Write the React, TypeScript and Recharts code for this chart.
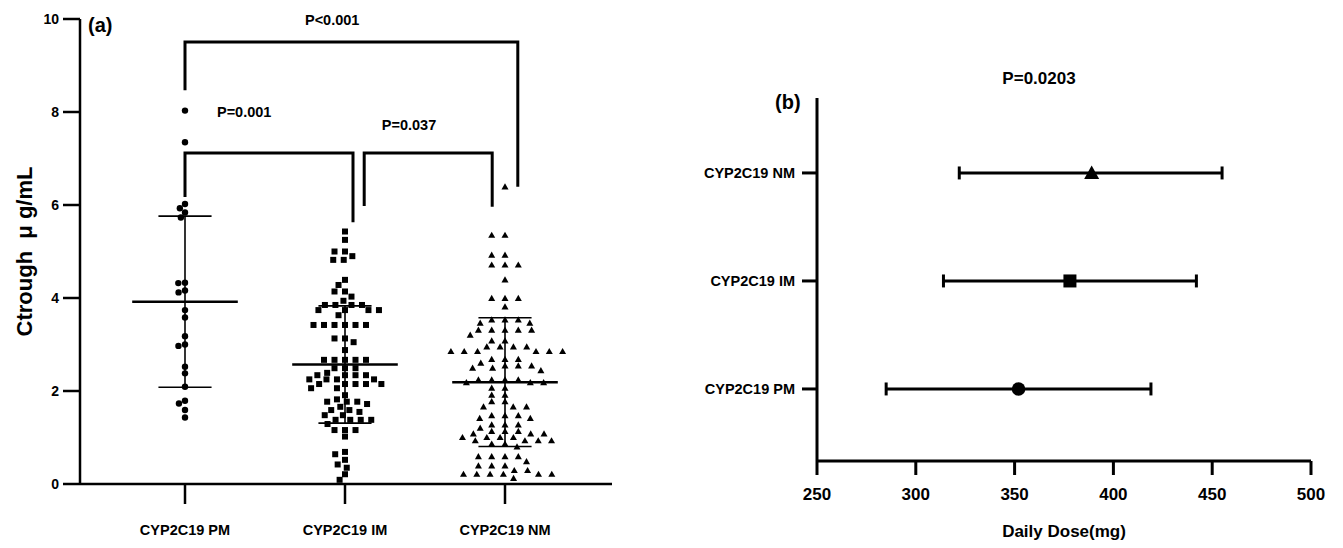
import React from 'react';
import { ScatterChart, Scatter, XAxis, YAxis, ReferenceLine, ReferenceDot } from 'recharts';

const FONT = '"Liberation Sans", Arial, Helvetica, sans-serif';

// ---------- data ----------
const groups = ['CYP2C19 PM', 'CYP2C19 IM', 'CYP2C19 NM'];

const pmTrough = [8.03, 7.35, 6.02, 5.93, 5.84, 5.73, 4.33, 4.32, 4.16, 4.12, 3.74, 3.58, 3.18, 3.0, 2.97, 2.52, 2.38, 2.09, 1.79, 1.73, 1.59, 1.43];

const imTrough = [
  5.43, 5.25, 5.0, 5.0, 4.9, 4.82, 4.82, 4.39, 4.28, 4.14, 4.14, 4.03, 3.94,
  3.85, 3.85, 3.85, 3.85, 3.74, 3.74, 3.74, 3.74, 3.63,
  3.42, 3.42, 3.42, 3.42, 3.42, 3.42, 3.13, 3.13, 3.05, 2.88,
  2.67, 2.67, 2.67, 2.67, 2.67, 2.49, 2.49, 2.49, 2.39,
  2.34, 2.34, 2.34, 2.34, 2.25, 2.25, 2.25, 2.25, 2.15, 2.15, 2.15, 2.15, 2.15, 2.06, 2.06,
  1.91, 1.82, 1.77, 1.77, 1.77, 1.72, 1.66, 1.59, 1.59, 1.55, 1.48, 1.48,
  1.38, 1.38, 1.38, 1.38, 1.29, 1.16, 1.16, 1.16, 1.02,
  0.69, 0.64, 0.52, 0.42, 0.35, 0.21, 0.09,
];

const nmTrough = [
  6.39, 5.35, 5.35, 4.92, 4.92, 4.71, 4.71, 4.71, 4.39, 3.99, 3.99, 3.99, 3.81,
  3.53, 3.53, 3.53, 3.46, 3.46, 3.31, 3.31, 3.31, 3.31, 3.31, 3.2, 3.08, 3.08,
  2.95, 2.95, 2.95, 2.95, 2.85, 2.85, 2.85, 2.85, 2.85, 2.85, 2.68, 2.68, 2.68, 2.6,
  2.54, 2.54, 2.54, 2.49, 2.49, 2.44, 2.24, 2.24, 2.24, 2.24, 2.18, 2.18, 2.18,
  2.06, 2.06, 1.91, 1.91, 1.77, 1.77, 1.66, 1.66, 1.66, 1.47, 1.47, 1.47, 1.41, 1.41,
  1.27, 1.27, 1.27, 1.2, 1.13, 1.13, 1.13, 1.08, 1.08, 1.08, 1.0, 1.0, 1.0, 1.0,
  0.93, 0.93, 0.93, 0.93, 0.86, 0.86, 0.8, 0.59, 0.59, 0.59, 0.59, 0.48,
  0.39, 0.39, 0.39, 0.29, 0.29, 0.21, 0.21, 0.21, 0.21, 0.21, 0.21, 0.12,
];

const troughMean = [3.92, 2.57, 2.19];
const troughSD = [1.84, 1.26, 1.385];
const troughTicks = [0, 2, 4, 6, 8, 10];

const brackets = [
  { from: 1, to: 3.08, level: 9.505, leftEnd: 8.47, rightEnd: 6.39 },
  { from: 1, to: 2.05, level: 7.12, leftEnd: 6.17, rightEnd: 5.63 },
  { from: 2.12, to: 2.92, level: 7.12, leftEnd: 5.98, rightEnd: 5.96 },
];
const pLabels = [
  { text: 'P<0.001', x: 1.92, y: 9.98 },
  { text: 'P=0.001', x: 1.37, y: 8.0 },
  { text: 'P=0.037', x: 2.4, y: 7.72 },
];

const doseMean = [352, 378, 389];
const doseLow = [285, 314, 322];
const doseHigh = [419, 442, 455];
const doseTicks = [250, 300, 350, 400, 450, 500];

// ---------- layout helpers ----------
const A_W = 650, A_H = 548;
const A_M = { top: 19, right: 38, bottom: 24, left: 20 };
const A_XDOM: [number, number] = [0.34375, 3.66875];
const A_YDOM: [number, number] = [0, 10];
const A_PLOT_W = A_W - A_M.left - A_M.right - 60;
const A_PLOT_H = A_H - A_M.top - A_M.bottom - 40;
const PX_X = A_PLOT_W / (A_XDOM[1] - A_XDOM[0]);
const PX_Y = A_PLOT_H / (A_YDOM[1] - A_YDOM[0]);

function swarm(values: number[], center: number, sx: number, sy: number) {
  const placed: { x: number; y: number; v: number }[] = [];
  const sorted = [...values].sort((a, b) => b - a);
  for (const v of sorted) {
    const y = v * PX_Y;
    const iv: [number, number][] = [];
    for (const p of placed) {
      const dy = Math.abs(p.y - y);
      if (dy < sy) {
        const h = sx * Math.sqrt(1 - (dy / sy) * (dy / sy));
        iv.push([p.x - h, p.x + h]);
      }
    }
    const cands = [0];
    iv.forEach(([a, b]) => cands.push(a, b));
    cands.sort((a, b) => Math.abs(a) - Math.abs(b) || a - b);
    let chosen = 0;
    for (const c of cands) {
      if (iv.every(([a, b]) => c <= a + 1e-6 || c >= b - 1e-6)) { chosen = c; break; }
    }
    placed.push({ x: chosen, y, v });
  }
  return placed.map((p) => ({ x: center + p.x / PX_X, y: p.v }));
}

const pmPts = swarm(pmTrough, 1, 6.7, 6.5);
const imPts = swarm(imTrough, 2, 10.5, 6.5);
const nmPts = swarm(nmTrough, 3, 13.3, 6.5);

const Circle = (r: number) => (p: any) => <circle cx={p.cx} cy={p.cy} r={r} fill="#000" />;
const Square = (s: number) => (p: any) => <rect x={p.cx - s / 2} y={p.cy - s / 2} width={s} height={s} fill="#000" />;
const Tri = (w: number, up: number, down: number) => (p: any) => (
  <polygon points={`${p.cx},${p.cy - up} ${p.cx - w / 2},${p.cy + down} ${p.cx + w / 2},${p.cy + down}`} fill="#000" />
);
const Empty = () => <g />;

const tickStyle = (fs: number) => ({ fontSize: fs, fontWeight: 700, fill: '#000', fontFamily: FONT });

export default function App() {
  const b_capHalf = 0.06;
  const doseShapes = [Circle(6.8), Square(13), Tri(15, 7.5, 6)];
  return (
    <div style={{ position: 'absolute', left: 0, top: 0, width: 1343, height: 548, background: '#fff', overflow: 'hidden', fontFamily: FONT }}>
      <div style={{ position: 'absolute', left: 0, top: 0 }}>
        <ScatterChart width={A_W} height={A_H} margin={A_M}>
          <XAxis
            type="number" dataKey="x" domain={A_XDOM} allowDataOverflow ticks={[1, 2, 3]}
            tickFormatter={(v: number) => groups[Math.round(v) - 1]}
            height={40} tickSize={20} tickMargin={21}
            axisLine={{ stroke: '#000', strokeWidth: 2.5 }} tickLine={{ stroke: '#000', strokeWidth: 2.5 }}
            tick={tickStyle(14.5)} interval={0}
          />
          <YAxis
            type="number" dataKey="y" domain={A_YDOM} allowDataOverflow ticks={troughTicks}
            width={60} tickSize={17} tickMargin={4}
            axisLine={{ stroke: '#000', strokeWidth: 2.5 }} tickLine={{ stroke: '#000', strokeWidth: 2.5 }}
            tick={tickStyle(14)} interval={0}
            label={{ value: 'Ctrough\u00a0\u00a0\u03bc g/mL', angle: -90, position: 'insideLeft', offset: 4,
              style: { textAnchor: 'middle', fontSize: 22, fontWeight: 700, fill: '#000', fontFamily: FONT } }}
          />
          {troughMean.map((m, i) => {
            const c = i + 1, sd = troughSD[i];
            return (
              <React.Fragment key={'ms' + i}>
                <ReferenceLine segment={[{ x: c - 0.33, y: m }, { x: c + 0.33, y: m }]} stroke="#000" strokeWidth={2.5} ifOverflow="visible" />
                <ReferenceLine segment={[{ x: c - 0.166, y: m + sd }, { x: c + 0.166, y: m + sd }]} stroke="#000" strokeWidth={1.6} ifOverflow="visible" />
                <ReferenceLine segment={[{ x: c - 0.166, y: m - sd }, { x: c + 0.166, y: m - sd }]} stroke="#000" strokeWidth={1.6} ifOverflow="visible" />
                <ReferenceLine segment={[{ x: c, y: m - sd }, { x: c, y: m + sd }]} stroke="#000" strokeWidth={1.6} ifOverflow="visible" />
              </React.Fragment>
            );
          })}
          <Scatter data={pmPts} shape={Circle(3.2)} isAnimationActive={false} />
          <Scatter data={imPts} shape={Square(6)} isAnimationActive={false} />
          <Scatter data={nmPts} shape={Tri(7, 3.6, 2.6)} isAnimationActive={false} />
          {brackets.map((b, i) => (
            <Scatter
              key={'br' + i}
              data={[{ x: b.from, y: b.leftEnd }, { x: b.from, y: b.level }, { x: b.to, y: b.level }, { x: b.to, y: b.rightEnd }]}
              line={{ stroke: '#000', strokeWidth: 3, fill: 'none' }}
              shape={Empty}
              isAnimationActive={false}
            />
          ))}
          {pLabels.map((l, i) => (
            <ReferenceDot key={'pl' + i} x={l.x} y={l.y} r={1} fill="none" stroke="none" ifOverflow="visible"
              label={{ value: l.text, position: 'center', fill: '#000', fontSize: 14.5, fontWeight: 700, fontFamily: FONT }} />
          ))}
        </ScatterChart>
      </div>
      <div style={{ position: 'absolute', left: 88, top: 15, fontSize: 20, lineHeight: 1, fontWeight: 700, color: '#000' }}>(a)</div>

      <div style={{ position: 'absolute', left: A_W, top: 0 }}>
        <ScatterChart width={693} height={548} margin={{ top: 98, right: 32, bottom: 27, left: 17 }}>
          <XAxis
            type="number" dataKey="x" domain={[250, 500]} allowDataOverflow ticks={doseTicks}
            height={60} tickSize={14} tickMargin={13} interval={0}
            axisLine={{ stroke: '#000', strokeWidth: 3 }} tickLine={{ stroke: '#000', strokeWidth: 3 }}
            tick={tickStyle(17)}
            label={{ value: 'Daily Dose(mg)', position: 'bottom', offset: 4,
              style: { fontSize: 17, fontWeight: 700, fill: '#000', fontFamily: FONT } }}
          />
          <YAxis
            type="number" dataKey="y" domain={[0.333, 3.694]} allowDataOverflow ticks={[1, 2, 3]}
            tickFormatter={(v: number) => groups[Math.round(v) - 1]}
            width={150} tickSize={15} tickMargin={7} interval={0}
            axisLine={{ stroke: '#000', strokeWidth: 3 }} tickLine={{ stroke: '#000', strokeWidth: 3 }}
            tick={tickStyle(14.5)}
          />
          {doseMean.map((m, i) => {
            const c = i + 1;
            return (
              <React.Fragment key={'eb' + i}>
                <ReferenceLine segment={[{ x: doseLow[i], y: c }, { x: doseHigh[i], y: c }]} stroke="#000" strokeWidth={3} ifOverflow="visible" />
                <ReferenceLine segment={[{ x: doseLow[i], y: c - b_capHalf }, { x: doseLow[i], y: c + b_capHalf }]} stroke="#000" strokeWidth={3} ifOverflow="visible" />
                <ReferenceLine segment={[{ x: doseHigh[i], y: c - b_capHalf }, { x: doseHigh[i], y: c + b_capHalf }]} stroke="#000" strokeWidth={3} ifOverflow="visible" />
              </React.Fragment>
            );
          })}
          {doseMean.map((m, i) => (
            <Scatter key={'dm' + i} data={[{ x: m, y: i + 1 }]} shape={doseShapes[i]} isAnimationActive={false} />
          ))}
        </ScatterChart>
      </div>
      <div style={{ position: 'absolute', left: 775, top: 92, fontSize: 20, lineHeight: 1, fontWeight: 700, color: '#000' }}>(b)</div>
      <div style={{ position: 'absolute', left: 939, width: 200, textAlign: 'center', top: 70, fontSize: 17, lineHeight: 1, fontWeight: 700, color: '#000' }}>P=0.0203</div>
    </div>
  );
}
